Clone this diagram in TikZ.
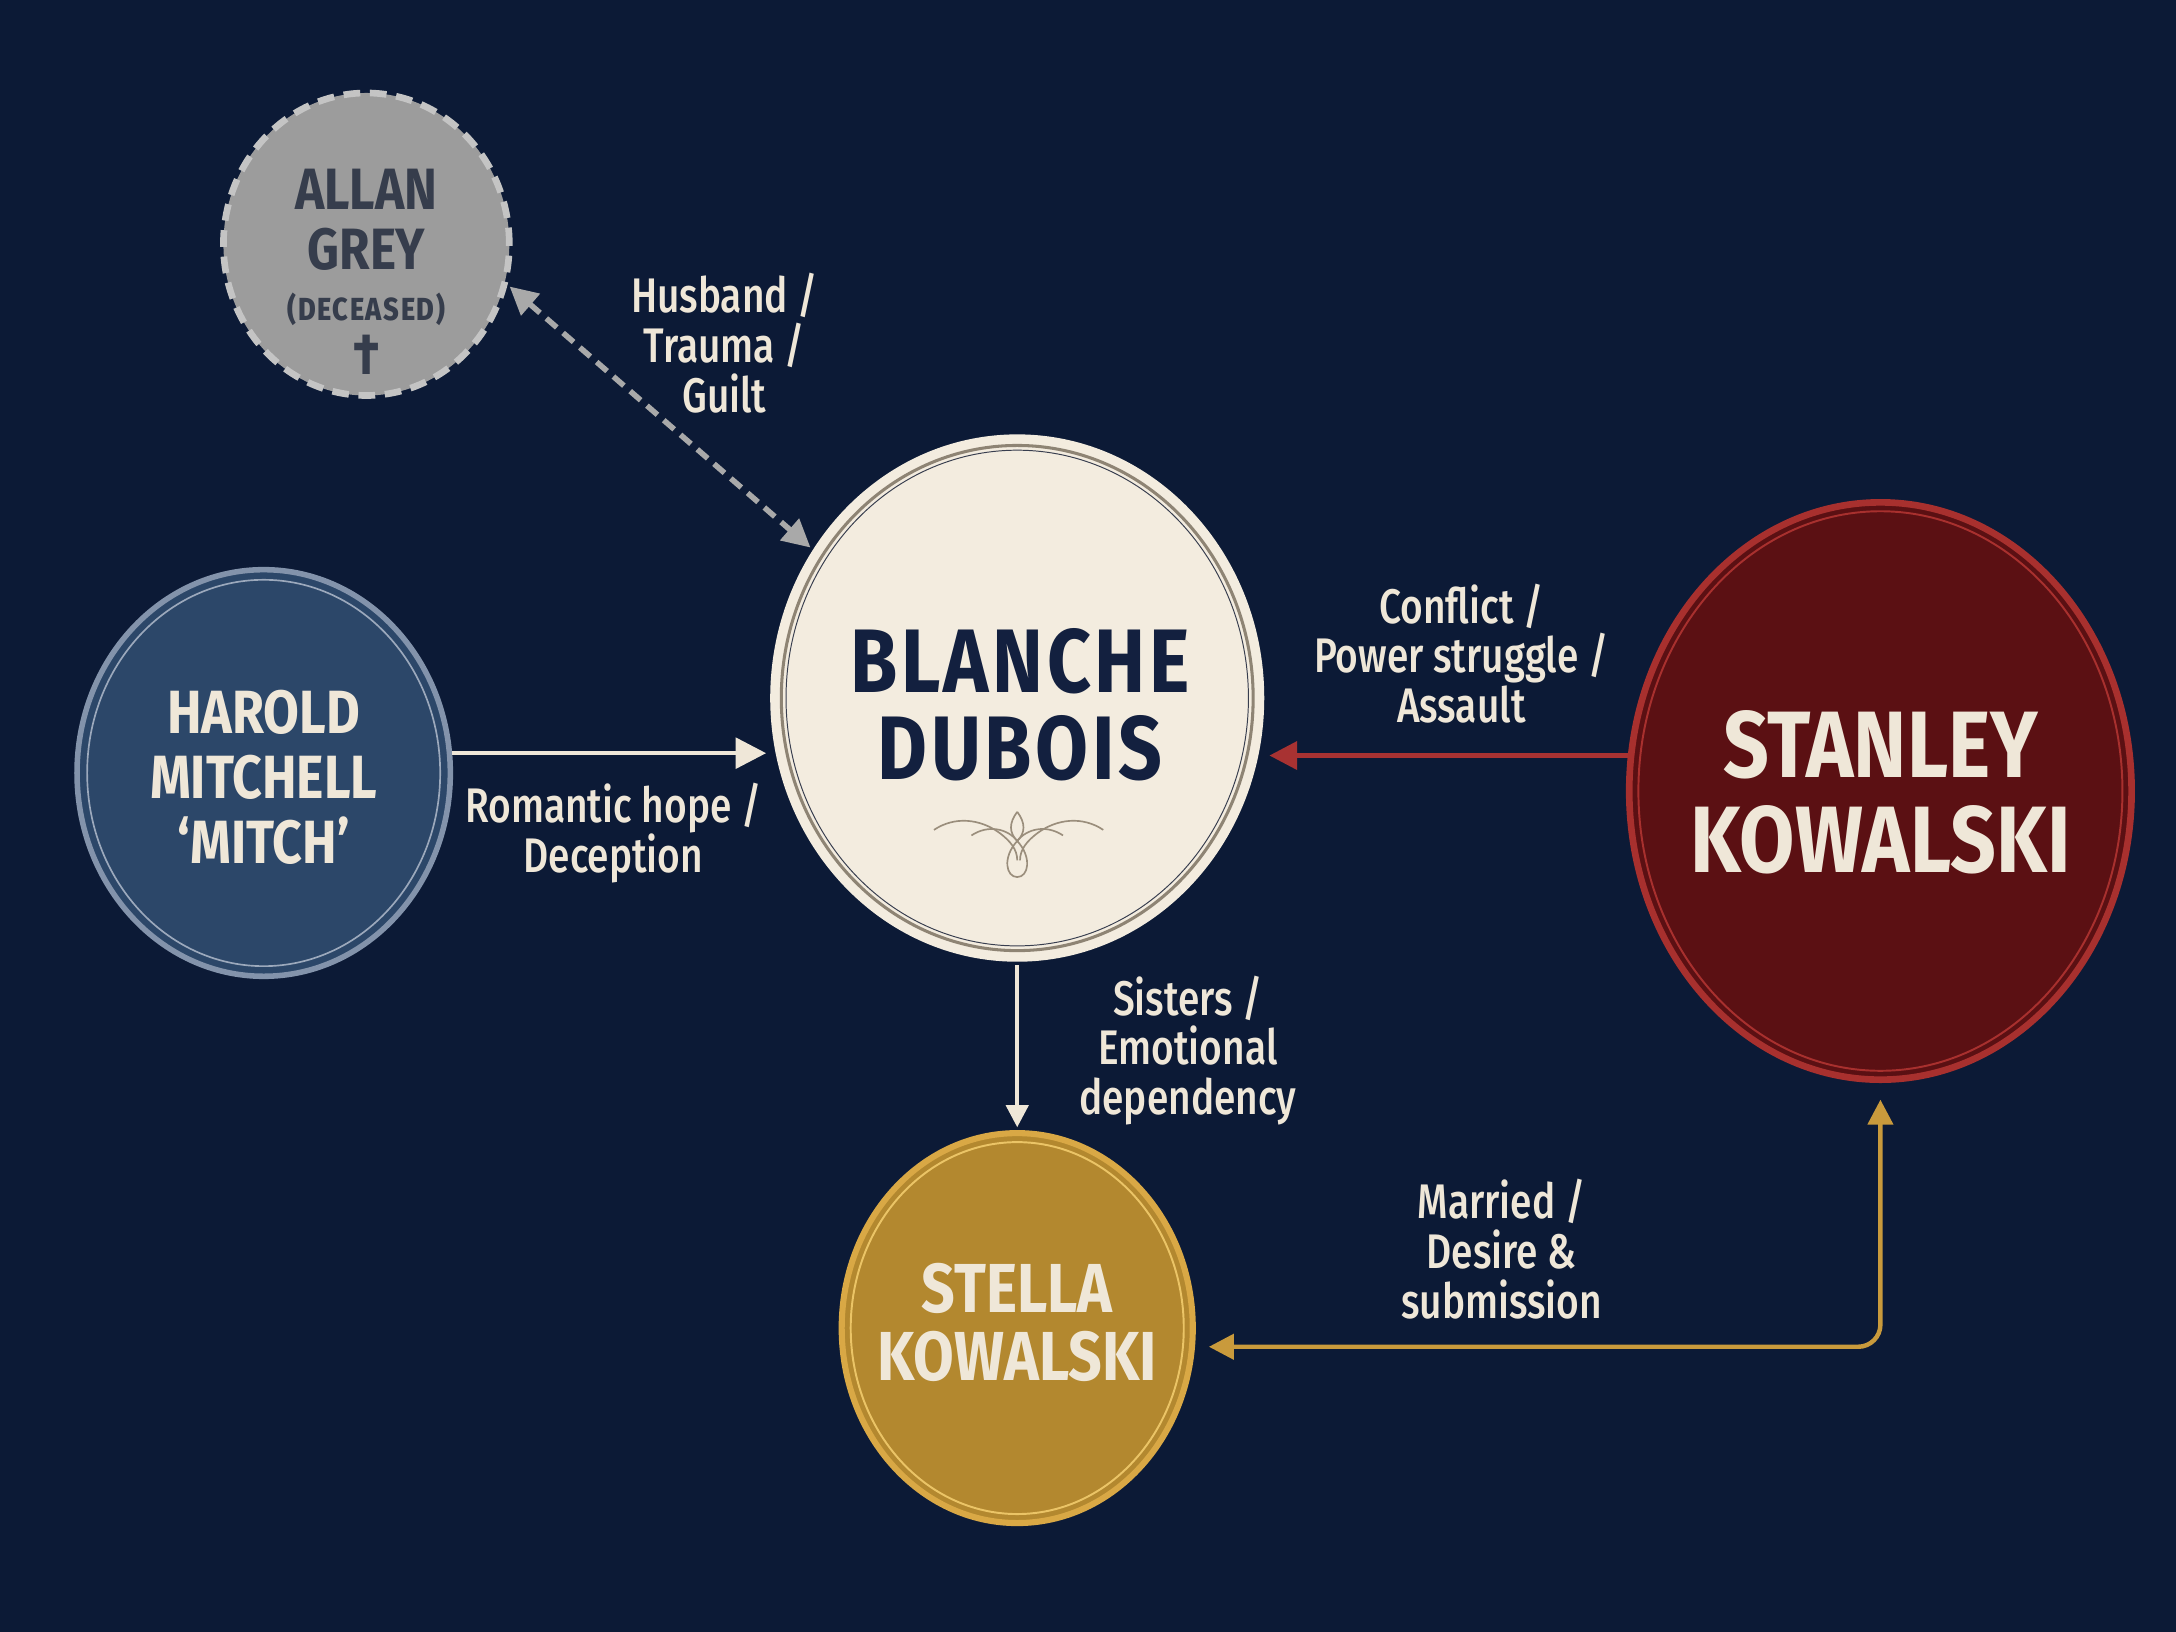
\documentclass[tikz,border=0pt]{standalone}
\usepackage{fontspec}
\setmainfont{Fira Sans}
\newfontfamily\labfont[FakeStretch=0.8]{Fira Sans Medium}
\newfontfamily\namefont[FakeStretch=0.85]{Fira Sans}
\newfontfamily\blfont[FakeStretch=0.85,LetterSpace=4]{Fira Sans}
\newfontfamily\smallfont[FakeStretch=0.85,LetterSpace=5]{Fira Sans Medium}
\usetikzlibrary{arrows.meta,shapes.geometric}
\definecolor{bgc}{HTML}{0C1A36}
\definecolor{labc}{HTML}{EFE7D8}
\definecolor{blfill}{HTML}{F3ECDF}
\definecolor{blring}{HTML}{8E8474}
\definecolor{bltext}{HTML}{13203F}
\definecolor{hafill}{HTML}{2C4769}
\definecolor{haring}{HTML}{8393AB}
\definecolor{stfill}{HTML}{5B1013}
\definecolor{string}{HTML}{A8302E}
\definecolor{sefill}{HTML}{B3882F}
\definecolor{sering}{HTML}{D9A845}
\definecolor{seinner}{HTML}{EBC466}
\definecolor{alfill}{HTML}{9C9C9C}
\definecolor{alring}{HTML}{C4C4C4}
\definecolor{altext}{HTML}{363D4C}
\definecolor{dashc}{HTML}{A9A9A9}
\definecolor{redc}{HTML}{A83232}
\definecolor{goldc}{HTML}{C99A3C}
\definecolor{ornc}{HTML}{9A8E7C}
\begin{document}
\begin{tikzpicture}[x=0.5pt,y=-0.5pt,
  person/.style={ellipse, inner sep=0pt},
  nametext/.style={align=center, inner sep=0pt},
  lab/.style={align=center, inner sep=0pt, text=labc,
    font=\labfont\fontsize{17.5}{18}\selectfont},
  creamarrow/.style={draw=labc, line width=1.6pt,
    -{Triangle[length=11pt,width=11pt]}},
  creamarrowsmall/.style={draw=labc, line width=1.5pt,
    -{Triangle[length=8pt,width=8pt]}},
  redarrow/.style={draw=redc, line width=1.7pt,
    -{Triangle[length=10pt,width=10pt]}},
  goldarrow/.style={draw=goldc, line width=1.6pt, rounded corners=8pt,
    {Triangle[length=9pt,width=9pt]}-{Triangle[length=9pt,width=9pt]}},
  dasharrow/.style={draw=dashc, line width=2pt, dash pattern=on 5pt off 3pt,
    {Triangle[length=10pt,width=10pt]}-{Triangle[length=10pt,width=10pt]}},
  orn/.style={draw=ornc, line width=0.6pt}
]
\fill[bgc] (0,0) rectangle (1568,1176);
\useasboundingbox (0,0) rectangle (1568,1176);

% ---------- nodes ----------
\node[person, fill=alfill, draw=alring, line width=2.4pt,
  dash pattern=on 6pt off 3.5pt, minimum width=206pt/2, minimum height=218pt/2]
  (allan) at (264,176) {};
\node[nametext, text=altext, font=\namefont\bfseries\fontsize{21}{21.5}\selectfont]
  (allantxt) at (264,196)
  {ALLAN\\GREY\\[-3pt]{\smallfont\fontsize{11.5}{12}\selectfont (DECEASED)}\\[-2pt]{\fontsize{21}{21}\selectfont †}};

\node[person, fill=blfill, minimum width=178pt, minimum height=190pt]
  (blanche) at (733,503) {};
\draw[blring, line width=1.1pt] (blanche.center) ellipse [x radius=85pt, y radius=91pt];
\draw[bltext!70!blring, line width=0.35pt] (blanche.center) ellipse [x radius=83.3pt, y radius=89.3pt];
\node[nametext, text=bltext, font=\blfont\bfseries\fontsize{32.5}{31.5}\selectfont]
  (blanchetxt) at (735,508) {BLANCHE\\DUBOIS};

\node[person, fill=hafill, draw=haring, line width=2pt,
  minimum width=134.5pt, minimum height=146.5pt]
  (harold) at (190,557) {};
\draw[haring!80!white, line width=0.6pt] (harold.center) ellipse [x radius=63.6pt, y radius=69.6pt];
\node[nametext, text=labc, font=\namefont\bfseries\fontsize{22}{23.5}\selectfont]
  (haroldtxt) at (190,560) {HAROLD\\MITCHELL\\‘MITCH’};

\node[person, fill=stfill, draw=string, line width=2.4pt,
  minimum width=181pt, minimum height=208pt]
  (stanley) at (1355,570) {};
\draw[string, line width=0.7pt] (stanley.center) ellipse [x radius=87.2pt, y radius=100.8pt];
\node[nametext, text=labc, font=\namefont\bfseries\fontsize{34}{34}\selectfont]
  (stanleytxt) at (1355,571) {STANLEY\\KOWALSKI};

\node[person, fill=sefill, draw=sering, line width=2.2pt,
  minimum width=126.5pt, minimum height=140.5pt]
  (stella) at (733,957) {};
\draw[seinner, line width=0.7pt] (stella.center) ellipse [x radius=60pt, y radius=67pt];
\node[nametext, text=labc, font=\namefont\bfseries\fontsize{25}{24.5}\selectfont]
  (stellatxt) at (733,953) {STELLA\\KOWALSKI};

% ---------- ornament ----------
\draw[orn] (673,598) .. controls (688,588) and (706,590) .. (720,600)
  .. controls (728,606) and (733,612) .. (733,620);
\draw[orn] (795,598) .. controls (780,588) and (762,590) .. (748,600)
  .. controls (740,606) and (735,612) .. (735,620);
\draw[orn] (700,602) .. controls (712,594) and (726,597) .. (733,606)
  .. controls (740,597) and (754,594) .. (766,602);
\draw[orn] (733,585) .. controls (727,593) and (727,600) .. (733,606)
  .. controls (739,600) and (739,593) .. (733,585);
\draw[orn] (733,606) .. controls (722,618) and (725,632) .. (733,632)
  .. controls (741,632) and (744,618) .. (733,606);

% ---------- connectors ----------
\draw[dasharrow, shorten <=1pt, shorten >=1pt] (allan.-16) -- (blanche.144);
\draw[creamarrow, shorten >=3pt] (harold.6) -- (harold.6 -| blanche.192);
\draw[redarrow, shorten >=4pt] (stanley.172) -- (stanley.172 -| blanche.346);
\draw[creamarrowsmall, shorten <=1pt, shorten >=1pt] (blanche.south) -- (stella.north);
\draw[goldarrow, shorten <=5pt, shorten >=6pt] (stella.-6) -| (stanley.south);

% ---------- labels ----------
\node[lab] (l1) at (522,247) {Husband /\\Trauma /\\Guilt};
\node[lab] (l2) at (442,600) {Romantic hope /\\Deception};
\node[lab] (l3) at (1053,471) {Conflict /\\Power struggle /\\Assault};
\node[lab] (l4) at (856,757) {Sisters /\\Emotional\\dependency};
\node[lab] (l5) at (1082,900) {Married /\\Desire \&\\submission};
\end{tikzpicture}
\end{document}
